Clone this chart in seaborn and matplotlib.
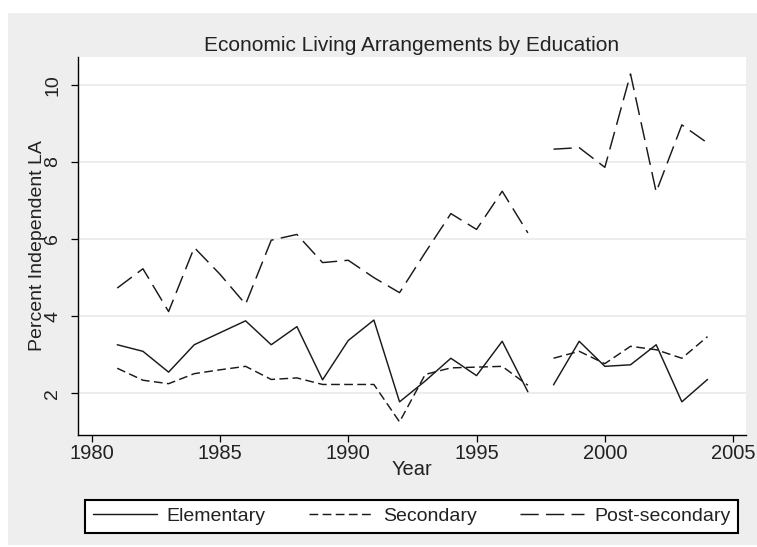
import matplotlib
matplotlib.use("Agg")
import matplotlib.pyplot as plt
import matplotlib.patches as mpatches
import numpy as np
import pandas as pd
import seaborn as sns

# data (percent), two periods with a break after 1997
years_a = list(range(1981, 1998))
years_b = list(range(1998, 2005))

elementary = [3.26, 3.09, 2.55, 3.26, 3.57, 3.88, 3.26, 3.73, 2.35, 3.37, 3.90, 1.78,
              2.32, 2.91, 2.46, 3.35, 2.04,
              2.22, 3.35, 2.70, 2.74, 3.26, 1.78, 2.36]
secondary = [2.65, 2.34, 2.25, 2.51, 2.61, 2.70, 2.36, 2.40, 2.23, 2.23, 2.23, 1.26,
             2.49, 2.66, 2.68, 2.70, 2.21,
             2.91, 3.09, 2.77, 3.22, 3.13, 2.91, 3.47]
post_secondary = [4.73, 5.23, 4.12, 5.78, 5.09, 4.31, 5.97, 6.12, 5.39, 5.45, 5.00, 4.61,
                  5.65, 6.66, 6.25, 7.24, 6.16,
                  8.33, 8.37, 7.86, 10.28, 7.22, 8.96, 8.49]

groups = ["Elementary", "Secondary", "Post-secondary"]
x_ticks = [1980, 1985, 1990, 1995, 2000, 2005]
y_ticks = [2, 4, 6, 8, 10]

years = years_a + years_b
segment = [1] * len(years_a) + [2] * len(years_b)
rows = []
for name, vals in zip(groups, [elementary, secondary, post_secondary]):
    for yr, seg, v in zip(years, segment, vals):
        rows.append({"Year": yr, "value": v, "Education": name, "segment": seg})
df = pd.DataFrame(rows)

sns.set_theme(style="white")
plt.rcParams["font.family"] = ["Liberation Sans", "DejaVu Sans"]

fig = plt.figure(figsize=(7.57, 5.47), dpi=100, facecolor="white")
# grey stata-like background panel
fig.patches.append(mpatches.Rectangle((8 / 757, 2 / 547), 1 - 8 / 757, 532 / 547,
                                      transform=fig.transFigure, facecolor="#eeeeee",
                                      edgecolor="none", zorder=-10))
ax = fig.add_axes([78 / 757, 112 / 547, 668 / 757, 378 / 547])
ax.set_facecolor("white")

sns.lineplot(data=df, x="Year", y="value", style="Education", units="segment",
             estimator=None, color="#1a1a1a", linewidth=1.05, ax=ax,
             style_order=groups,
             dashes={"Elementary": "", "Secondary": (6, 3), "Post-secondary": (12.5, 5)})

ax.set_xlim(1979.47, 2005.5)
ax.set_ylim(0.92, 10.72)
ax.set_xticks(x_ticks)
ax.set_yticks(y_ticks)
ax.grid(axis="y", color="#e8e8e8", linewidth=1.1)
ax.set_axisbelow(True)

for s in ["top", "right"]:
    ax.spines[s].set_visible(False)
for s in ["left", "bottom"]:
    ax.spines[s].set_color("black")
    ax.spines[s].set_linewidth(1.0)

ax.tick_params(axis="x", bottom=True, length=5, width=0.9, color="black", pad=1.5,
               labelsize=14.5, labelcolor="#222222")
ax.tick_params(axis="y", left=True, length=5, width=0.9, color="black", pad=7,
               labelsize=14, labelrotation=90, labelcolor="#222222")
for t in ax.get_yticklabels():
    t.set_va("center")

ax.set_xlabel("Year", fontsize=14.5, color="#222222", labelpad=-2)
ax.set_ylabel("Percent Independent LA", fontsize=14, color="#222222")
ax.yaxis.set_label_coords(-0.048, 0.5)
ax.set_title("Economic Living Arrangements by Education", fontsize=15,
             color="#222222", pad=4)

handles, labels = ax.get_legend_handles_labels()
ax.get_legend().remove()
leg = fig.legend(handles, labels, loc="lower left", ncol=3, mode="expand",
                 bbox_to_anchor=(85 / 757, 14 / 547, 653 / 757, 36 / 547),
                 borderaxespad=0, frameon=True, fancybox=False, edgecolor="black",
                 facecolor="white", framealpha=1, handlelength=3.3, handletextpad=0.5,
                 borderpad=0.4, prop={"size": 14})
leg.get_frame().set_linewidth(1.5)
for t in leg.get_texts():
    t.set_color("#222222")

fig.savefig("out.png", dpi=100, facecolor="white")
